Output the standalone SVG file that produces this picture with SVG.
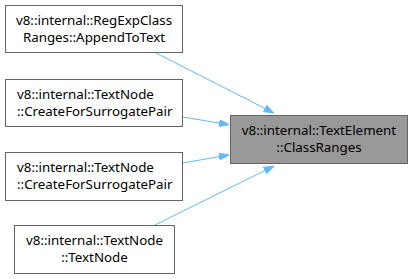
<svg xmlns="http://www.w3.org/2000/svg" width="412" height="279" viewBox="0 0 412 279">
<defs>
<style>
.node rect{fill:#ffffff;stroke:#666666;stroke-width:1}
.node.focus rect{fill:#999999}
.node text{font-family:"Noto Sans",sans-serif;font-size:13.33px;fill:#000000;text-anchor:middle}
.node text.l{text-anchor:start}
.edge{fill:none;stroke:#63b8ff;stroke-width:1}
</style>
<marker id="arr" markerWidth="10" markerHeight="10" refX="9" refY="5" orient="auto" markerUnits="userSpaceOnUse">
<path d="M0,1.5 L10,5 L0,8.5 Z" fill="#63b8ff" stroke="#63b8ff"/>
</marker>
</defs>
<rect width="412" height="279" fill="#ffffff"/>
<g id="edges">
<path class="edge" d="M156,53 L273,112.5" marker-end="url(#arr)"/>
<path class="edge" d="M183,117 L228,124.5" marker-end="url(#arr)"/>
<path class="edge" d="M183,163 L228,155" marker-end="url(#arr)"/>
<path class="edge" d="M155,225 L273,166.5" marker-end="url(#arr)"/>
</g>
<g id="node1" class="node">
<rect x="5.5" y="5.5" width="177" height="47"/>
<text x="94" y="25">v8::internal::RegExpClass</text>
<text x="94" y="42">Ranges::AppendToText</text>
</g>
<g id="node2" class="node">
<rect x="5.5" y="79.5" width="177" height="47"/>
<text class="l" x="17" y="99">v8::internal::TextNode</text>
<text class="l" x="17" y="116">::CreateForSurrogatePair</text>
</g>
<g id="node3" class="node">
<rect x="5.5" y="152.5" width="177" height="48"/>
<text class="l" x="17" y="172">v8::internal::TextNode</text>
<text class="l" x="17" y="189">::CreateForSurrogatePair</text>
</g>
<g id="node4" class="node">
<rect x="14.5" y="225.5" width="160" height="48"/>
<text x="94.5" y="245">v8::internal::TextNode</text>
<text x="94.5" y="262">::TextNode</text>
</g>
<g id="target" class="node focus">
<rect x="230.5" y="115.5" width="177" height="48"/>
<text x="319" y="135">v8::internal::TextElement</text>
<text x="319" y="152">::ClassRanges</text>
</g>
</svg>
